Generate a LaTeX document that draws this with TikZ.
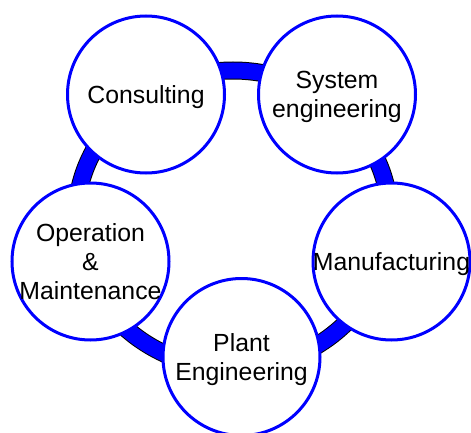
\documentclass[tikz,border=0pt]{standalone}
\usepackage{fontspec}
\setmainfont{Liberation Sans}
\usepackage{tikz}

\begin{document}
\begin{tikzpicture}[x=1pt,y=-1pt,
  stage/.style={circle,draw=blue,line width=3pt,fill=white,minimum size=157pt,inner sep=0pt},
  stagetext/.style={align=center,text=black,text depth=0pt,font=\fontsize{24.8pt}{29pt}\selectfont}]
\useasboundingbox (0,0) rectangle (471,433);
\coordinate (hub) at (233,219.5);
\draw [line width=18pt,black] (hub) ellipse [x radius=157pt,y radius=149pt];
\draw [line width=16pt,blue] (hub) ellipse [x radius=157pt,y radius=149pt];
\node[stage,label={[stagetext]center:Consulting}] (C)at(146,94.5){};
\node[stage,label={[stagetext]center:System\\engineering}] (S)at(337,94.5){};
\node[stage,label={[stagetext]center:Manufacturing}] (M)at(391.5,261.5){};
\node[stage,label={[stagetext]center:Operation\\\&\\Maintenance}] (O)at(90.5,261.5){};
\node[stage,label={[stagetext]center:Plant\\Engineering}] (P)at(241.5,357){};
\end{tikzpicture}
\end{document}
